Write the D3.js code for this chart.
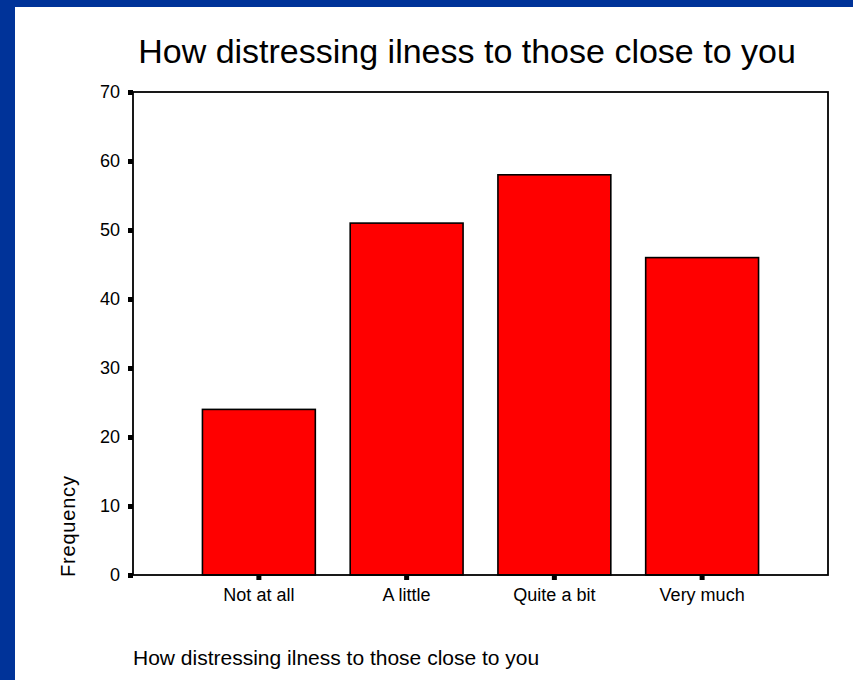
<!DOCTYPE html>
<html><head><meta charset="utf-8">
<script src="https://cdn.jsdelivr.net/npm/d3@7"></script>
<style>
html,body{margin:0;padding:0;background:#003399;}
svg{display:block;}
text{font-family:Arial,"Liberation Sans",sans-serif;fill:#000;}
</style></head><body>
<svg id="c" width="853" height="680"></svg>
<script>
const categories = ["Not at all", "A little", "Quite a bit", "Very much"];
const frequencies = [24, 51, 58, 46];
const yTicks = [0, 10, 20, 30, 40, 50, 60, 70];
const chartTitle = "How distressing ilness to those close to you";
const xTitle = "How distressing ilness to those close to you";
const yTitle = "Frequency";

const svg = d3.select("#c");
svg.append("rect").attr("x",0).attr("y",0).attr("width",853).attr("height",680).attr("fill","#003399");
svg.append("rect").attr("x",15).attr("y",7).attr("width",838).attr("height",673).attr("fill","#fff");

const L=133, R=828, T=92, B=575;
const x = d3.scaleBand().domain(categories).range([L,R]).paddingInner(0.236).paddingOuter(0.47);
const y = d3.scaleLinear().domain([0,70]).range([B,T]);

// bars
svg.append("g").selectAll("rect").data(frequencies).join("rect")
  .attr("x",(d,i)=>x(categories[i]))
  .attr("y",d=>y(d))
  .attr("width",x.bandwidth())
  .attr("height",d=>B-y(d))
  .attr("fill","#ff0000").attr("stroke","#000").attr("stroke-width",1.6);

// frame
svg.append("rect").attr("x",L).attr("y",T).attr("width",R-L).attr("height",B-T)
  .attr("fill","none").attr("stroke","#000").attr("stroke-width",1.8);

// y axis
const ya = svg.append("g").attr("transform",`translate(${L},0)`)
  .call(d3.axisLeft(y).tickValues(yTicks).tickSize(5).tickPadding(8));
ya.select(".domain").remove();
ya.selectAll(".tick line").attr("stroke","#000").attr("stroke-width",5);
ya.selectAll(".tick text").style("font-size","18px").style("font-family","Arial, 'Liberation Sans', sans-serif");

// x axis
const xa = svg.append("g").attr("transform",`translate(0,${B})`)
  .call(d3.axisBottom(x).tickSize(5).tickPadding(8));
xa.select(".domain").remove();
xa.selectAll(".tick line").attr("stroke","#000").attr("stroke-width",5);
xa.selectAll(".tick text").style("font-size","18px").style("font-family","Arial, 'Liberation Sans', sans-serif");

// titles
svg.append("text").attr("x",467).attr("y",63).attr("text-anchor","middle")
  .style("font-size","34px").text(chartTitle);
svg.append("text").attr("x",133).attr("y",665).style("font-size","21px").text(xTitle);
svg.append("text").attr("transform","translate(75,577) rotate(-90)")
  .style("font-size","20px").style("letter-spacing","0.8px").text(yTitle);
</script>
</body></html>
